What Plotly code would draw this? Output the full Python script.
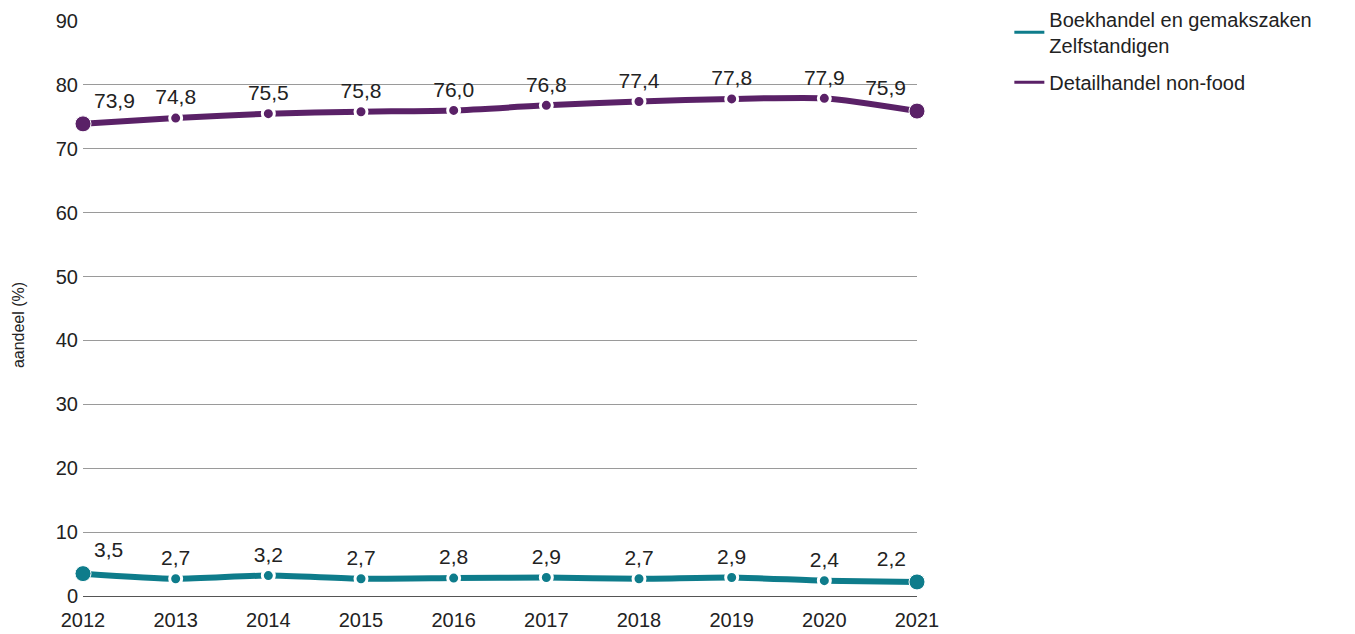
import plotly.graph_objects as go

years = [2012, 2013, 2014, 2015, 2016, 2017, 2018, 2019, 2020, 2021]
boek = [3.5, 2.7, 3.2, 2.7, 2.8, 2.9, 2.7, 2.9, 2.4, 2.2]
detail = [73.9, 74.8, 75.5, 75.8, 76.0, 76.8, 77.4, 77.8, 77.9, 75.9]
names = ["Boekhandel en gemakszaken<br>Zelfstandigen", "Detailhandel non-food"]
colors = ["#0E7C8B", "#5A2167"]
FONT = "Liberation Sans, Arial"

fig = go.Figure()
for i, (vals, name, col) in enumerate([(boek, names[0], colors[0]), (detail, names[1], colors[1])]):
    n = len(vals)
    sizes = [16] + [12] * (n - 2) + [16]
    lw = [1] + [3] * (n - 2) + [1]
    pos = ["top right"] + ["top center"] * (n - 2) + ["top left"]
    fig.add_trace(go.Scatter(
        x=years, y=vals, name=name, mode="lines+markers+text",
        legendgroup=f"g{i}", showlegend=False,
        line=dict(color=col, width=6, shape="spline", smoothing=0.6),
        marker=dict(size=sizes, color=col, opacity=1, line=dict(color="white", width=lw)),
        text=[f"{v:.1f}".replace(".", ",") for v in vals],
        textposition=pos,
        textfont=dict(size=21, color="#222", family=FONT),
        cliponaxis=False,
    ))
    fig.add_trace(go.Scatter(
        x=[None], y=[None], name=name, mode="lines", legendgroup=f"g{i}",
        line=dict(color=col, width=3), showlegend=True,
    ))

fig.update_layout(
    width=1355, height=634,
    margin=dict(l=75, r=446, t=13, b=46, autoexpand=False),
    plot_bgcolor="white", paper_bgcolor="white",
    font=dict(family=FONT, size=20, color="#222"),
    separators=",.",
    showlegend=True,
    legend=dict(xref="container", yref="paper", x=0.739, y=1.037,
                xanchor="left", yanchor="top",
                font=dict(size=20, color="#222"), tracegroupgap=8,
                itemwidth=30),
    xaxis=dict(range=[2012, 2021], tickmode="array", tickvals=years,
               ticktext=[str(y) for y in years], showgrid=False, zeroline=False,
               showline=False, ticks="", tickfont=dict(size=20), automargin=False,
               ticklabelstandoff=10),
    yaxis=dict(range=[0, 90], dtick=10, showgrid=True, gridcolor="#9a9a9a",
               gridwidth=1, zeroline=True, zerolinecolor="#555", zerolinewidth=1,
               ticks="", tickfont=dict(size=20), automargin=False,
               ticklabelstandoff=4),
    annotations=[dict(text="aandeel (%)", textangle=-90, xref="paper", yref="paper",
                      x=-0.078, y=0.471, xanchor="center", yanchor="middle",
                      showarrow=False, font=dict(size=16, color="#222"))],
)
fig.write_html("out.html")
